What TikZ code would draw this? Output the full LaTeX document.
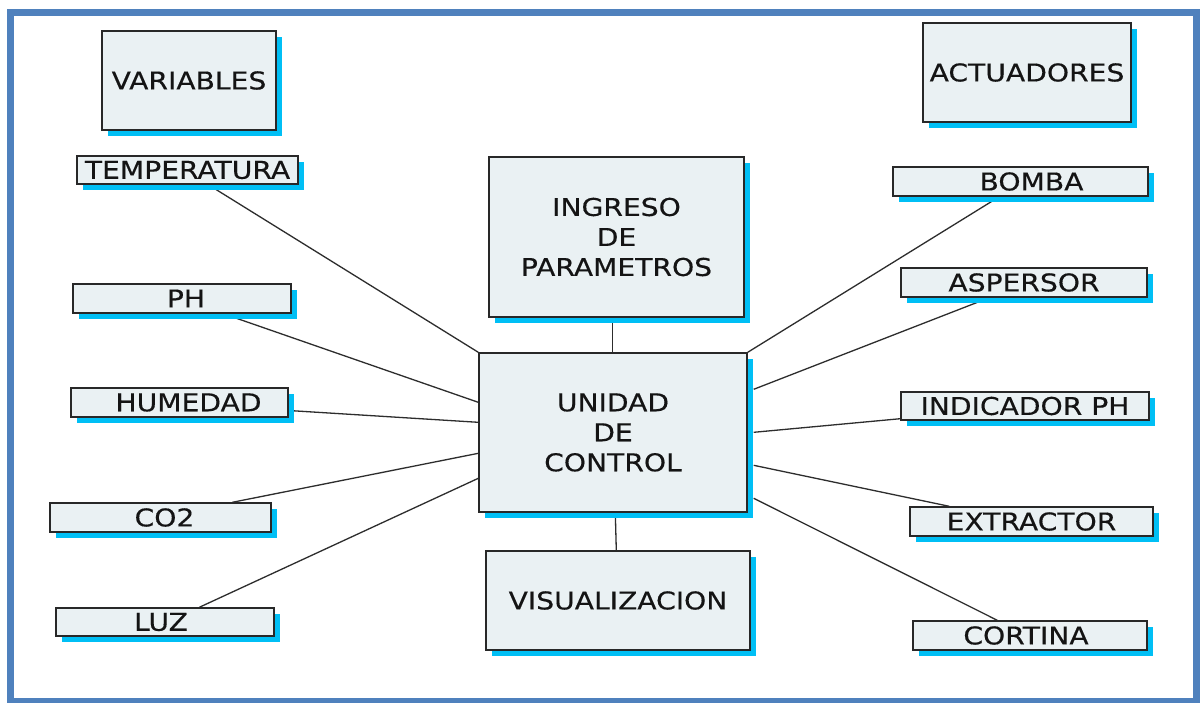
\documentclass[tikz,border=0pt]{standalone}
\usepackage{fontspec}
\setmainfont[FakeStretch=1.15,FakeBold=0.4]{DejaVu Sans}
\usetikzlibrary{shadows,backgrounds,calc}
\definecolor{frameblue}{RGB}{79,129,189}
\definecolor{boxfill}{RGB}{234,241,243}
\definecolor{boxline}{RGB}{40,40,40}
\definecolor{shadowc}{RGB}{0,191,245}
\definecolor{linkc}{RGB}{45,45,45}
\definecolor{txt}{RGB}{20,20,20}
\tikzset{
  box/.style={draw=boxline, line width=1.4pt, fill=boxfill, inner sep=0pt,
    align=center, text=txt, font=\fontsize{24.5}{30}\selectfont,
    drop shadow={shadow xshift=6pt, shadow yshift=-6pt, fill=shadowc, opacity=1}},
  link/.style={draw=linkc, line width=1.3pt},
  frame/.style={draw=frameblue, line width=7pt}
}
\begin{document}
\begin{tikzpicture}[x=1pt,y=-1pt]
\useasboundingbox (0,0) rectangle (1204,702);
\draw[frame] (10.5,12.5) rectangle (1196.5,701.5);

\node[box, minimum width=174pt, minimum height=99pt] (var) at (189,80.5) {VARIABLES};
\node[box, minimum width=208pt, minimum height=99pt] (act) at (1027,72.5) {ACTUADORES};

\node[box, minimum width=221pt, minimum height=28pt] (temp) at (187.5,170) {TEMPERATURA};
\node[box, minimum width=218pt, minimum height=29pt] (ph) at (182,298.5) {\hspace*{8pt}PH};
\node[box, minimum width=217pt, minimum height=29pt] (hum) at (179.5,402.5) {\hspace*{18pt}HUMEDAD};
\node[box, minimum width=221pt, minimum height=29pt] (co2) at (160.5,517.5) {\hspace*{8pt}CO2};
\node[box, minimum width=218pt, minimum height=28pt] (luz) at (165,622) {LUZ\hspace*{8pt}};

\node[box, minimum width=255pt, minimum height=160pt] (ing) at (616.5,237) {INGRESO\\DE\\PARAMETROS};
\node[box, minimum width=268pt, minimum height=159pt] (u) at (613,432.5) {UNIDAD\\DE\\CONTROL};
\node[box, minimum width=264pt, minimum height=99pt] (vis) at (618,600.5) {VISUALIZACION};

\node[box, minimum width=255pt, minimum height=29pt] (bomba) at (1020.5,181.5) {\hspace*{22pt}BOMBA};
\node[box, minimum width=246pt, minimum height=29pt] (asp) at (1024,282.5) {ASPERSOR};
\node[box, minimum width=248pt, minimum height=28pt] (ind) at (1025,406) {INDICADOR PH};
\node[box, minimum width=243pt, minimum height=29pt] (ext) at (1031.5,521.5) {EXTRACTOR};
\node[box, minimum width=234pt, minimum height=29pt] (cor) at (1030,635.5) {CORTINA\hspace*{8pt}};

\begin{scope}[on background layer]
\fill[white] (0,0) rectangle (1204,702);
\draw[link] ($(temp.south west)+(132,0)$) -- (u.north west);
\draw[link] ($(ph.south west)+(151,0)$) -- ($(u.north west)+(0,50)$);
\draw[link] ($(hum.east)+(0,8)$) -- ($(u.north west)+(0,70)$);
\draw[link] ($(co2.north west)+(183,0)$) -- ($(u.north west)+(0,101)$);
\draw[link] ($(luz.north west)+(144,0)$) -- ($(u.north west)+(0,126)$);

\draw[link] ($(ing.south west)+(124,0)$) -- ($(u.north west)+(134,0)$);
\draw[link] ($(u.south west)+(137,0)$) -- ($(vis.north west)+(131,0)$);

\draw[link] ($(bomba.south west)+(107,0)$) -- (u.north east);
\draw[link] ($(asp.south west)+(89,0)$) -- ($(u.north east)+(6,37)$);
\draw[link] ($(ind.south west)+(0,-2)$) -- ($(u.north east)+(6,80)$);
\draw[link] ($(ext.north west)+(40,0)$) -- ($(u.north east)+(6,113)$);
\draw[link] ($(cor.north west)+(85,0)$) -- ($(u.north east)+(6,146)$);
\end{scope}
\end{tikzpicture}
\end{document}
